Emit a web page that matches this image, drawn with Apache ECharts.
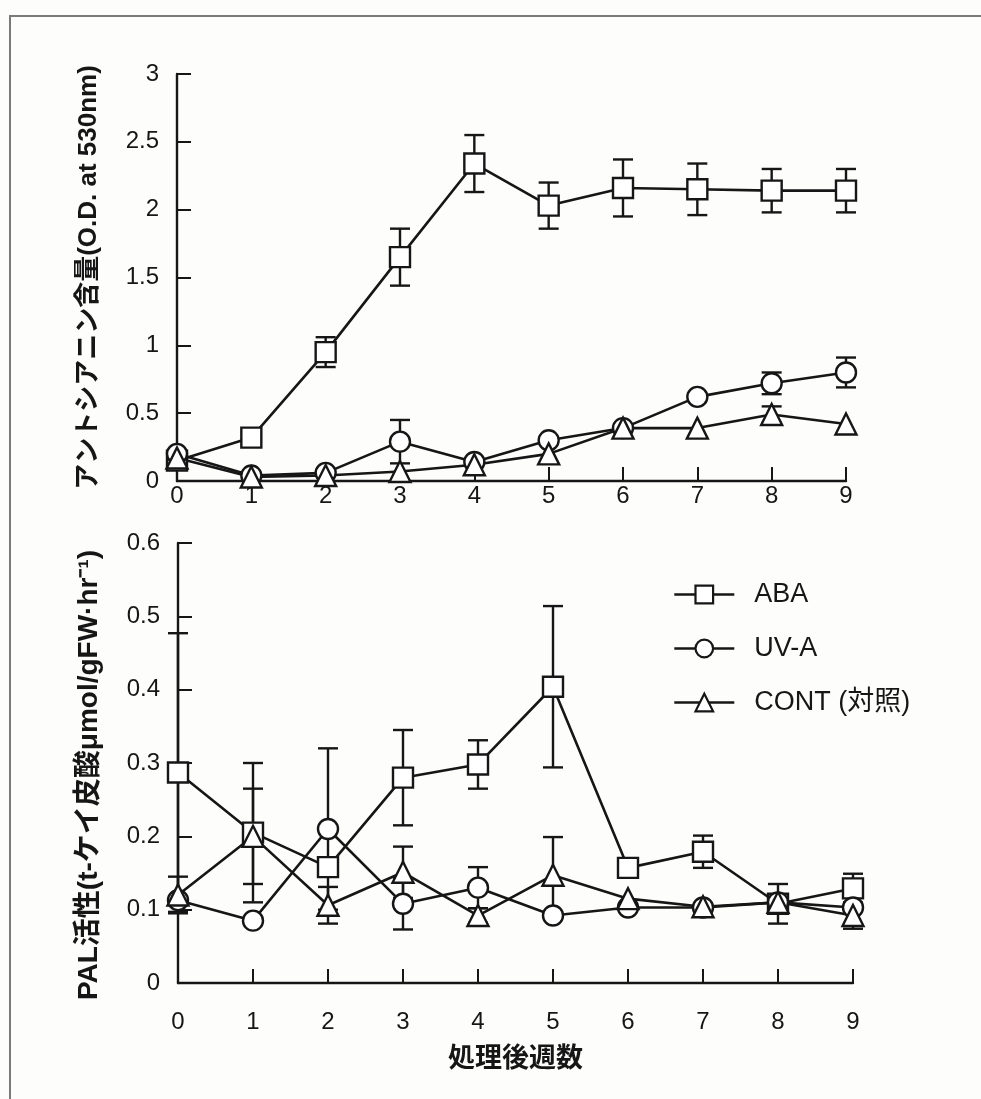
<!DOCTYPE html>
<html>
<head>
<meta charset="utf-8">
<script src="https://cdn.jsdelivr.net/npm/echarts@6/dist/echarts.min.js"></script>
<style>
  html, body { margin: 0; padding: 0; background: #fdfdfc; }
  #chart { width: 981px; height: 1099px; }
</style>
</head>
<body>
<div id="chart"></div>
<script>
// Weeks after treatment
const weeks = [0, 1, 2, 3, 4, 5, 6, 7, 8, 9];

// Anthocyanin content (O.D. at 530nm), mean and ± error
const abaOD     = [0.15, 0.32, 0.95, 1.65, 2.34, 2.03, 2.16, 2.15, 2.14, 2.14];
const abaODErr  = [0, 0, 0.11, 0.21, 0.21, 0.17, 0.21, 0.19, 0.16, 0.16];
const uvOD      = [0.20, 0.04, 0.06, 0.29, 0.14, 0.30, 0.39, 0.62, 0.72, 0.80];
const uvODErr   = [0, 0, 0, 0.16, 0, 0, 0, 0, 0.08, 0.11];
const contOD    = [0.17, 0.03, 0.04, 0.07, 0.12, 0.20, 0.39, 0.39, 0.49, 0.42];
const contODErr = [0, 0, 0, 0, 0, 0, 0, 0, 0.06, 0];

// PAL activity (t-cinnamic acid μmol/gFW·hr-1), mean and ± error
const abaPAL     = [0.287, 0.205, 0.158, 0.280, 0.298, 0.404, 0.157, 0.179, 0.108, 0.129];
const abaPALErr  = [0.19, 0.095, 0, 0.065, 0.033, 0.11, 0, 0.022, 0.027, 0.02];
const uvPAL      = [0.113, 0.085, 0.210, 0.108, 0.130, 0.092, 0.103, 0.103, 0.110, 0.103];
const uvPALErr   = [0, 0, 0.11, 0.035, 0.028, 0, 0, 0, 0, 0];
const contPAL    = [0.120, 0.200, 0.106, 0.151, 0.092, 0.147, 0.115, 0.104, 0.110, 0.092];
const contPALErr = [0.025, 0.065, 0.025, 0.035, 0.01, 0.052, 0, 0, 0, 0.018];

// Series names and symbols
const seriesNames = ['ABA', 'UV-A', 'CONT (対照)'];
const seriesSymbols = ['rect', 'circle', 'triangle'];

const INK = '#161616';
const LATIN = "'Liberation Sans', Arial, 'Noto Sans CJK JP', sans-serif";

const pairs = (ys) => weeks.map((w, i) => [w, ys[i]]);
const errRows = (ys, es) => weeks
  .map((w, i) => [w, ys[i] - es[i], ys[i] + es[i]])
  .filter((r, i) => es[i] > 0);

function renderErr(params, api) {
  const x = api.value(0);
  const lo = api.coord([x, api.value(1)]);
  const hi = api.coord([x, api.value(2)]);
  const w = 10;
  const st = { stroke: INK, lineWidth: 2.4 };
  return {
    type: 'group',
    children: [
      { type: 'line', shape: { x1: lo[0], y1: lo[1], x2: hi[0], y2: hi[1] }, style: st },
      { type: 'line', shape: { x1: hi[0] - w, y1: hi[1], x2: hi[0] + w, y2: hi[1] }, style: st },
      { type: 'line', shape: { x1: lo[0] - w, y1: lo[1], x2: lo[0] + w, y2: lo[1] }, style: st }
    ]
  };
}

function lineSeries(k, data, gi) {
  return {
    type: 'line',
    name: seriesNames[k],
    xAxisIndex: gi, yAxisIndex: gi,
    data: pairs(data),
    symbol: seriesSymbols[k],
    symbolSize: k === 2 ? 21 : 20,
    showAllSymbol: true,
    color: INK,
    lineStyle: { color: INK, width: 2.6 },
    itemStyle: { color: '#ffffff', borderColor: INK, borderWidth: 2.4 },
    emphasis: { disabled: true },
    z: 3,
    animation: false
  };
}

function errSeries(k, ys, es, gi) {
  return {
    type: 'custom',
    name: seriesNames[k],
    xAxisIndex: gi, yAxisIndex: gi,
    data: errRows(ys, es),
    renderItem: renderErr,
    encode: { x: 0, y: [1, 2] },
    itemStyle: { color: INK },
    z: 2,
    silent: true,
    animation: false
  };
}

const axisLine = { show: true, lineStyle: { color: INK, width: 2.4 } };
const tickLabel = { color: INK, fontSize: 24, fontFamily: LATIN };
const inTick = { show: true, inside: true, length: 14, lineStyle: { color: INK, width: 2 } };

const chart = echarts.init(document.getElementById('chart'), null, { renderer: 'canvas' });

chart.setOption({
  backgroundColor: '#fdfdfc',
  animation: false,
  graphic: [{
    type: 'rect',
    shape: { x: 10, y: 16, width: 1100, height: 1200 },
    style: { fill: 'none', stroke: '#7a7a7a', lineWidth: 2 },
    silent: true
  }],
  legend: {
    data: seriesNames,
    orient: 'vertical',
    left: 668,
    top: 576,
    itemWidth: 60,
    itemHeight: 22,
    itemGap: 27,
    lineStyle: { width: 2.6, color: INK },
    itemStyle: { borderWidth: 2.2 },
    textStyle: { color: INK, fontSize: 27, fontFamily: LATIN, lineHeight: 22, padding: [0, 0, 0, 15] },
    selectedMode: false
  },
  grid: [
    { left: 177, right: 135, top: 74, height: 407 },
    { left: 178, right: 128, top: 543, height: 440 }
  ],
  xAxis: [
    {
      gridIndex: 0, type: 'value', min: 0, max: 9, interval: 1,
      axisLine: axisLine,
      axisTick: inTick,
      axisLabel: Object.assign({ margin: 3 }, tickLabel),
      splitLine: { show: false }
    },
    {
      gridIndex: 1, type: 'value', min: 0, max: 9, interval: 1,
      axisLine: axisLine,
      axisTick: inTick,
      axisLabel: Object.assign({ margin: 27 }, tickLabel),
      splitLine: { show: false },
      name: '処理後週数',
      nameLocation: 'middle',
      nameGap: 60,
      nameTextStyle: { color: INK, fontSize: 27, fontWeight: 'bold', fontFamily: "'Noto Sans CJK JP', sans-serif" }
    }
  ],
  yAxis: [
    {
      gridIndex: 0, type: 'value', min: 0, max: 3, interval: 0.5,
      axisLine: axisLine,
      axisTick: inTick,
      axisLabel: Object.assign({ margin: 18 }, tickLabel),
      splitLine: { show: false },
      name: 'アントシアニン含量(O.D. at 530nm)',
      nameLocation: 'middle',
      nameGap: 75,
      nameTextStyle: { color: INK, fontSize: 26, fontWeight: 'bold', fontFamily: LATIN }
    },
    {
      gridIndex: 1, type: 'value', min: 0, max: 0.6, interval: 0.1,
      axisLine: axisLine,
      axisTick: inTick,
      axisLabel: Object.assign({ margin: 18 }, tickLabel),
      splitLine: { show: false },
      name: 'PAL活性(t-ケイ皮酸μmol/gFW·hr⁻¹)',
      nameLocation: 'middle',
      nameGap: 75,
      nameTextStyle: { color: INK, fontSize: 28, fontWeight: 'bold', fontFamily: LATIN, padding: [0, 24, 0, 0] }
    }
  ],
  series: [
    lineSeries(0, abaOD, 0),
    lineSeries(1, uvOD, 0),
    lineSeries(2, contOD, 0),
    lineSeries(0, abaPAL, 1),
    lineSeries(1, uvPAL, 1),
    lineSeries(2, contPAL, 1),
    errSeries(0, abaOD, abaODErr, 0),
    errSeries(1, uvOD, uvODErr, 0),
    errSeries(2, contOD, contODErr, 0),
    errSeries(0, abaPAL, abaPALErr, 1),
    errSeries(1, uvPAL, uvPALErr, 1),
    errSeries(2, contPAL, contPALErr, 1)
  ]
});
</script>
</body>
</html>
